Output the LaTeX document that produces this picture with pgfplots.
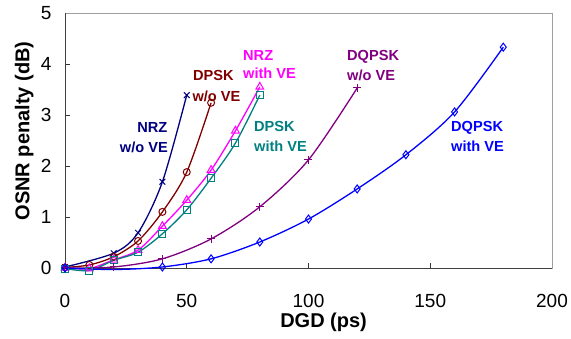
\documentclass[border=0pt]{standalone}
\usepackage{pgfplots}
\pgfplotsset{compat=1.18}
\usepackage{fontspec}
\setmainfont{Liberation Sans}
\definecolor{cNavy}{RGB}{0,0,128}
\definecolor{cDRed}{RGB}{128,0,0}
\definecolor{cMag}{RGB}{255,0,255}
\definecolor{cTeal}{RGB}{0,128,128}
\definecolor{cPurp}{RGB}{128,0,128}
\definecolor{cBlue}{RGB}{0,0,255}
\tikzset{lbl/.style={font=\bfseries\fontsize{14.6}{17}\selectfont, inner sep=0pt}}
\begin{document}
\begin{tikzpicture}
\begin{axis}[
 scale only axis, width=487pt, height=255pt,
 xmin=0,xmax=200,ymin=0,ymax=5,
 xtick={0,50,100,150,200}, ytick={0,1,2,3,4,5},
 tick pos=left, tick align=inside, major tick length=5pt,
 axis line style={draw=gray!75, line width=0.8pt},
 tick style={black!80, line width=0.8pt},
 ticklabel style={font=\fontsize{19}{22}\selectfont},
 /pgf/number format/assume math mode=true,
 xticklabel style={yshift=-23pt},
 yticklabel style={xshift=-10pt},
 xlabel={DGD (ps)}, ylabel={OSNR penalty (dB)},
 label style={font=\bfseries\fontsize{20}{24}\selectfont},
 xlabel style={at={(axis description cs:0.531,-0.235)}, anchor=base},
 ylabel style={at={(axis description cs:-0.084,0.537)}, anchor=center},
 clip=false,
 every axis plot/.append style={line width=1.3pt, smooth, tension=0.5},
]
\draw[black!75, line width=0.9pt] (rel axis cs:0,1) -- (rel axis cs:0,0) -- (rel axis cs:1,0);

% NRZ w/o VE
\addplot[color=cNavy, mark=x, mark size=4pt, mark options={line width=1pt}] coordinates {
 (0,0.02) (20,0.29) (30,0.69) (40,1.69) (50,3.39)};
% DPSK w/o VE
\addplot[color=cDRed, mark=o, mark size=3.5pt, mark options={line width=1pt}] coordinates {
 (0,0.01) (10,0.06) (20,0.22) (30,0.53) (40,1.10) (50,1.88) (60,3.24)};
% NRZ with VE
\addplot[color=cMag, mark=triangle, mark size=4.5pt, mark options={line width=1pt}] coordinates {
 (0,0) (10,-0.01) (20,0.16) (30,0.35) (40,0.82) (50,1.33) (60,1.92) (70,2.69) (80,3.55)};
% DPSK with VE
\addplot[color=cTeal, mark=square, mark size=3.5pt, mark options={line width=1pt}] coordinates {
 (0,-0.01) (10,-0.05) (20,0.15) (30,0.31) (40,0.67) (50,1.14) (60,1.76) (70,2.45) (80,3.39)};
% DQPSK w/o VE
\addplot[color=cPurp, mark=+, mark size=4pt, mark options={line width=1pt}] coordinates {
 (0,0) (20,0.02) (40,0.18) (60,0.57) (80,1.20) (100,2.12) (120,3.53)};
% DQPSK with VE
\addplot[color=cBlue, mark=diamond, mark size=4pt, mark options={line width=1pt},
 mark indices={1,3,4,5,6,7,8,9,10}] coordinates {
 (0,0) (20,-0.03) (40,0.02) (60,0.18) (80,0.51) (100,0.96) (120,1.55) (140,2.22) (160,3.06) (180,4.33)};

\node[lbl, text=cNavy, anchor=base east] at (axis cs:42.1,2.647) {NRZ};
\node[lbl, text=cNavy, anchor=base east] at (axis cs:42.3,2.255) {w/o VE};
\node[lbl, text=cDRed, anchor=base west] at (axis cs:52.5,3.68) {DPSK};
\node[lbl, text=cDRed, anchor=base west] at (axis cs:52.3,3.26) {w/o VE};
\node[lbl, text=cMag, anchor=base west] at (axis cs:73.1,4.06) {NRZ};
\node[lbl, text=cMag, anchor=base west] at (axis cs:73.1,3.706) {with VE};
\node[lbl, text=cTeal, anchor=base west] at (axis cs:77.6,2.667) {DPSK};
\node[lbl, text=cTeal, anchor=base west] at (axis cs:77.6,2.275) {with VE};
\node[lbl, text=cPurp, anchor=base west] at (axis cs:115.8,4.06) {DQPSK};
\node[lbl, text=cPurp, anchor=base west] at (axis cs:115.8,3.686) {w/o VE};
\node[lbl, text=cBlue, anchor=base west] at (axis cs:158.5,2.667) {DQPSK};
\node[lbl, text=cBlue, anchor=base west] at (axis cs:158.5,2.275) {with VE};
\end{axis}
\pgfresetboundingbox
\path[use as bounding box] ([shift={(-65pt,-71pt)}]current axis.south west) rectangle ([shift={(19pt,13pt)}]current axis.north east);
\end{tikzpicture}
\end{document}
